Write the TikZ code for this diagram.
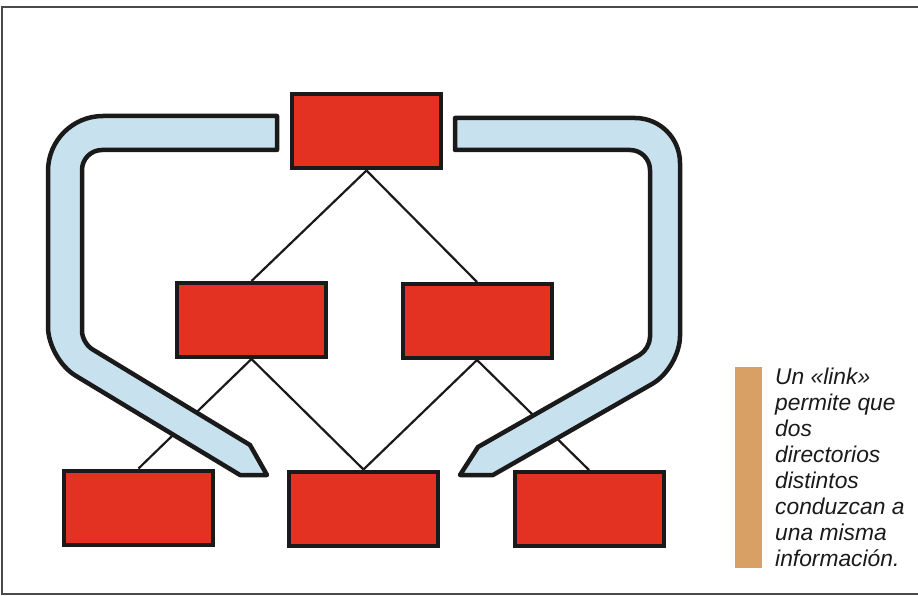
\documentclass[tikz,border=0pt]{standalone}
\usepackage{fontspec}
\newfontfamily\notafont{Liberation Sans}
\usetikzlibrary{positioning}
\definecolor{dirred}{HTML}{E33222}
\definecolor{linkblue}{HTML}{C8E1EE}
\definecolor{notabar}{HTML}{D9A066}
\definecolor{dirink}{HTML}{1A1A1A}
\definecolor{marco}{HTML}{4A4A4A}

\begin{document}
\begin{tikzpicture}[x=1pt, y=-1pt,
  caja/.style={draw=dirink, fill=dirred, line width=4pt, inner sep=0pt, minimum width=149pt, minimum height=74pt},
  rama/.style={draw=dirink, line width=2.2pt},
  enlace/.style={draw=dirink, fill=linkblue, line width=4.5pt, line join=round}]
  \useasboundingbox (0,0) rectangle (918,596);
  \draw[marco, line width=1.5pt] (930,7) -- (2,7) -- (2,594) -- (930,594);
  % directorios
  \node[caja] (raiz) at (366.5,131.5) {};
  \node[caja] (izq) at (251.5,320) {};
  \node[caja] (der) at (477,321) {};
  \node[caja] (hizq) at (138.5,507.5) {};
  \node[caja] (hcen) at (363.5,508.5) {};
  \node[caja] (hder) at (589,509) {};
  \draw[rama] (raiz.south) -- (izq.north);
  \draw[rama] (raiz.south) -- (der.north);
  \draw[rama] (izq.south) -- (hizq.north);
  \draw[rama] (izq.south) -- (hcen.north);
  \draw[rama] (der.south) -- (hcen.north);
  \draw[rama] (der.south) -- (hder.north);
  % links
  \draw[enlace] (277,116) [rounded corners=55pt] -- (48,116) [rounded corners=32pt] -- (48,359)
    [sharp corners] -- (240,475) -- (267,475) -- (250,445) [rounded corners=12pt] -- (82,343)
    [rounded corners=20pt] -- (82,150) [sharp corners] -- (277,150) -- cycle;
  \draw[enlace] (455,118) [rounded corners=45pt] -- (680,118) [rounded corners=32pt] -- (680,368)
    [sharp corners] -- (493,475) -- (460,475) -- (478,447) [rounded corners=12pt] -- (650,349)
    [rounded corners=20pt] -- (650,150) [sharp corners] -- (455,150) -- cycle;
  % nota
  \fill[notabar] (735,367) rectangle (762,568);
  \node[anchor=north west, inner sep=0pt, align=left, text=dirink,
    font=\notafont\itshape\fontsize{22.8}{26}\selectfont] (nota) at (775,368)
    {Un «link»\\permite que\\dos\\directorios\\distintos\\conduzcan a\\una misma\\información.};
\end{tikzpicture}
\end{document}
